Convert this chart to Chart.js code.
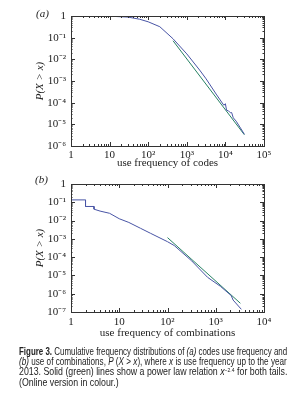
<!DOCTYPE html>
<html lang="en">
<head>
  <meta charset="UTF-8">
  <title>Figure 3</title>
  <script src="https://cdn.jsdelivr.net/npm/chart.js"></script>
  <style>
    body { margin: 0; background: #fff; width: 295px; height: 400px; position: relative; overflow: hidden; }
    canvas { position: absolute; left: 0; }
    #chartA { top: 0; }
    #chartB { top: 170px; }
    .panel { position: absolute; font-family: "Liberation Serif", serif; font-style: italic; font-size: 11px; color: #222; }
    .caption {
      position: absolute; left: 19px; top: 347px; width: 268px;
      font-family: "Liberation Sans", Arial, sans-serif;
      font-size: 10.4px; line-height: 10.2px; color: #222;
    }
    .caption span { display: inline-block; white-space: nowrap; transform-origin: 0 0; }
    .caption b { font-weight: bold; }
    .caption sup { font-size: 6px; vertical-align: 3px; line-height: 0; }
  </style>
</head>
<body>
  <canvas id="chartA" width="295" height="172"></canvas>
  <canvas id="chartB" width="295" height="170"></canvas>
  <div class="panel" style="left:36px; top:7px;">(a)</div>
  <div class="panel" style="left:35px; top:173px;">(b)</div>
  <div class="caption">
    <span><b>Figure 3.</b> Cumulative frequency distributions of <i>(a)</i> codes use frequency and</span><br>
    <span><i>(b)</i> use of combinations, <i>P</i> (<i>X</i> &gt; <i>x</i>), where <i>x</i> is use frequency up to the year</span><br>
    <span>2013. Solid (green) lines show a power law relation <i>x</i><sup>&minus;2.4</sup> for both tails.</span><br>
    <span class="last">(Online version in colour.)</span>
  </div>

  <script>
    // panel (a): codes use frequency
    const codesX = [1, 10, 30, 60, 100, 200, 440, 1000, 2150, 3160, 5750, 9100, 10000, 10700, 12000, 13500, 14500, 16000, 19000, 31000];
    const codesP = [1, 0.98, 0.89, 0.71, 0.54, 0.32, 0.089, 0.0178, 0.0032, 0.00126, 0.00025, 0.000076, 0.000089, 0.000045, 0.000042, 0.000034, 0.000035, 0.00002, 0.000014, 0.0000035];
    const codesFitX = [440, 31000];
    const codesFitP = [0.072, 0.0000033];

    // panel (b): use of combinations
    const combX = [1, 2, 2, 3, 3, 4, 6.3, 10, 15.8, 27.5, 44.7, 100, 138, 316, 676, 1260, 2090, 2290, 3390];
    const combP = [0.135, 0.135, 0.059, 0.059, 0.042, 0.033, 0.025, 0.0126, 0.0079, 0.0038, 0.002, 0.0007, 0.00043, 0.000063, 0.0000079, 0.0000025, 0.00000079, 0.00000045, 0.00000014];
    const combFitX = [100, 3240];
    const combFitP = [0.00117, 0.0000003];

    const xTicksA = [1, 10, 100, 1000, 10000, 100000];
    const xLabelsA = ['1', '10', '10²', '10³', '10⁴', '10⁵'];
    const yTicksA = [1e-6, 1e-5, 1e-4, 1e-3, 1e-2, 1e-1, 1];
    const yLabelsA = ['10⁻⁶', '10⁻⁵', '10⁻⁴', '10⁻³', '10⁻²', '10⁻¹', '1'];
    const xTicksB = [1, 10, 100, 1000, 10000];
    const xLabelsB = ['1', '10', '10²', '10³', '10⁴'];
    const yTicksB = [1e-7, 1e-6, 1e-5, 1e-4, 1e-3, 1e-2, 1e-1, 1];
    const yLabelsB = ['10⁻⁷', '10⁻⁶', '10⁻⁵', '10⁻⁴', '10⁻³', '10⁻²', '10⁻¹', '1'];

    const BLUE = 'rgb(72, 84, 165)';
    const GREEN = 'rgb(38, 128, 98)';
    const serif = { family: '"Liberation Serif", "Times New Roman", serif', size: 11 };

    function decadeTicks(min, max) {
      const out = [];
      for (let e = Math.floor(Math.log10(min)); e <= Math.ceil(Math.log10(max)); e++) {
        for (let k = 1; k <= 9; k++) {
          const v = k * Math.pow(10, e);
          if (v >= min * 0.999 && v <= max * 1.001) out.push({ v: v, major: k === 1 });
        }
      }
      return out;
    }

    // box with inward ticks on all four sides
    const frameTicks = {
      id: 'frameTicks',
      afterDraw(chart) {
        const { ctx, chartArea: a, scales: { x, y } } = chart;
        ctx.save();
        ctx.strokeStyle = '#333';
        ctx.lineWidth = 1;
        ctx.strokeRect(Math.round(a.left) + 0.5, Math.round(a.top) + 0.5, Math.round(a.right - a.left), Math.round(a.bottom - a.top));
        ctx.beginPath();
        decadeTicks(x.min, x.max).forEach(t => {
          const px = Math.round(x.getPixelForValue(t.v)) + 0.5;
          const len = t.major ? 4 : 2;
          ctx.moveTo(px, a.bottom); ctx.lineTo(px, a.bottom - len);
          ctx.moveTo(px, a.top); ctx.lineTo(px, a.top + len);
        });
        decadeTicks(y.min, y.max).forEach(t => {
          const py = Math.round(y.getPixelForValue(t.v)) + 0.5;
          const len = t.major ? 4 : 1.5;
          ctx.moveTo(a.left, py); ctx.lineTo(a.left + len, py);
          ctx.moveTo(a.right, py); ctx.lineTo(a.right - len, py);
        });
        ctx.stroke();
        ctx.restore();
      }
    };

    function makeChart(id, o) {
      const pts = (xs, ys) => xs.map((v, i) => ({ x: v, y: ys[i] }));
      new Chart(document.getElementById(id), {
        type: 'line',
        data: {
          datasets: [
            { data: pts(o.lineX, o.lineP), borderColor: BLUE, borderWidth: 1, pointRadius: 0, tension: 0 },
            { data: pts(o.fitX, o.fitP), borderColor: GREEN, borderWidth: 1, pointRadius: 0, tension: 0 }
          ]
        },
        options: {
          responsive: false,
          animation: false,
          layout: { padding: { left: 30, right: 31, top: o.top, bottom: 0 } },
          plugins: { legend: { display: false }, tooltip: { enabled: false } },
          scales: {
            x: {
              type: 'logarithmic', min: o.xTicks[0], max: o.xTicks[o.xTicks.length - 1],
              grid: { display: false, drawTicks: false }, border: { display: false },
              afterBuildTicks: s => { s.ticks = o.xTicks.map(v => ({ value: v })); },
              afterFit: s => { s.height = o.xHeight; },
              ticks: {
                autoSkip: false, maxRotation: 0, padding: o.xPad, color: '#222', font: serif,
                callback: (v, i) => o.xLabels[i]
              },
              title: { display: true, text: o.xTitle, color: '#222', font: serif, padding: { top: 0, bottom: o.titlePad } }
            },
            y: {
              type: 'logarithmic', min: o.yTicks[0], max: 1,
              grid: { display: false, drawTicks: false }, border: { display: false },
              afterBuildTicks: s => { s.ticks = o.yTicks.map(v => ({ value: v })); },
              afterFit: s => { s.width = 41; },
              ticks: {
                autoSkip: false, padding: 5, color: '#222', font: serif,
                callback: (v, i) => o.yLabels[i]
              },
              title: { display: true, text: 'P(X > x)', color: '#222', font: { ...serif, style: 'italic' }, padding: 4 }
            }
          }
        },
        plugins: [frameTicks]
      });
    }

    makeChart('chartA', {
      lineX: codesX, lineP: codesP, fitX: codesFitX, fitP: codesFitP,
      xTicks: xTicksA, xLabels: xLabelsA, yTicks: yTicksA, yLabels: yLabelsA,
      top: 16, xHeight: 26, xPad: 3, titlePad: 2, xTitle: 'use frequency of codes'
    });
    makeChart('chartB', {
      lineX: combX, lineP: combP, fitX: combFitX, fitP: combFitP,
      xTicks: xTicksB, xLabels: xLabelsB, yTicks: yTicksB, yLabels: yLabelsB,
      top: 14, xHeight: 28, xPad: 4, titlePad: 0, xTitle: 'use frequency of combinations'
    });

    // squeeze caption lines to the column width (the original uses a condensed face)
    let squeeze = 1;
    document.querySelectorAll('.caption span').forEach(el => {
      if (!el.classList.contains('last')) squeeze = 268 / el.offsetWidth;
      el.style.transform = 'scaleX(' + squeeze + ')';
    });
  </script>
</body>
</html>
